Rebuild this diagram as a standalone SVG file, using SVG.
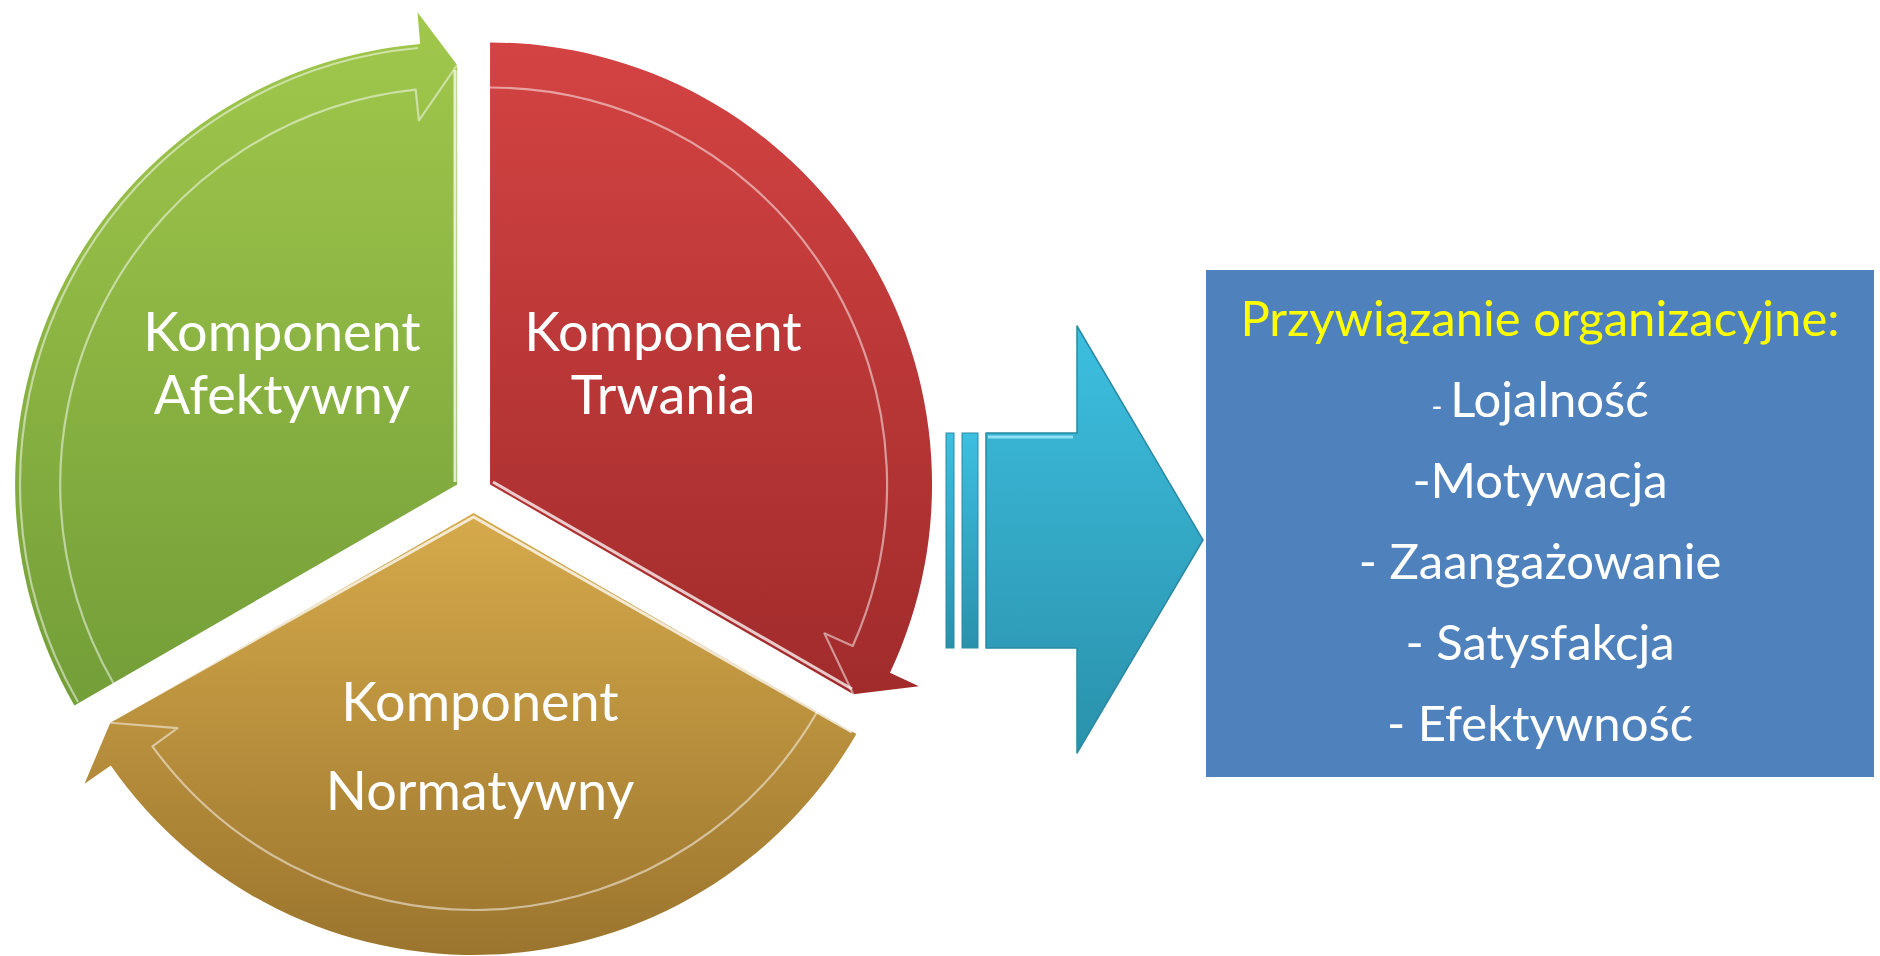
<svg xmlns="http://www.w3.org/2000/svg" width="1880" height="956" viewBox="0 0 1880 956">
  <defs>
    <linearGradient id="gGreen" x1="0" y1="0" x2="0" y2="1">
      <stop offset="0" stop-color="#a1c84c"/>
      <stop offset="1" stop-color="#739e38"/>
    </linearGradient>
    <linearGradient id="gRed" x1="0" y1="0" x2="0" y2="1">
      <stop offset="0" stop-color="#d44343"/>
      <stop offset="1" stop-color="#a12b2b"/>
    </linearGradient>
    <linearGradient id="gGold" x1="0" y1="0" x2="0" y2="1">
      <stop offset="0" stop-color="#d6aa4b"/>
      <stop offset="1" stop-color="#9b752e"/>
    </linearGradient>
    <linearGradient id="gBlue" x1="0" y1="0" x2="0" y2="1">
      <stop offset="0" stop-color="#3dbfe0"/>
      <stop offset="1" stop-color="#2a91ab"/>
    </linearGradient>
    <style>
      .lbl { font-family: Lato, "Open Sans", "Liberation Sans", sans-serif; fill: #ffffff; text-anchor: middle; }
      .seg { font-size: 54px; }
      .box { font-size: 49px; }
      .title { fill: #ffff00; }
      .hl { fill: none; stroke: #ffffff; stroke-opacity: 0.5; stroke-width: 2.2; stroke-linejoin: round; }
      .edge { fill: none; stroke: #ffffff; stroke-opacity: 0.75; stroke-width: 3; }
    </style>
  </defs>

  <g id="node-afektywny">
    <path d="M457.15,484.5 L74.35,705.5 A442 442 0 0 1 420.16,44.05 L417.49,12.16 L457.15,65 Z" fill="url(#gGreen)"/>
    <path class="hl" d="M113.35,683 A397 397 0 0 1 415.65,89.7 L418.89,120.5 L457.15,65"/>
    <path class="hl" stroke-opacity="0.35" d="M78,702 A438 438 0 0 1 418,48"/>
    <path class="edge" stroke="#f0ffd0" d="M455,482 L455,70"/>
    <text class="lbl seg" x="282" y="351">Komponent</text>
    <text class="lbl seg" x="282" y="414">Afektywny</text>
  </g>

  <g id="node-trwania">
    <path d="M490.05,484.5 L490.05,42.5 A442 442 0 0 1 889.98,672.69 L918.94,686.32 L853.34,694.25 Z" fill="url(#gRed)"/>
    <path class="hl" d="M490.05,87.5 A397 397 0 0 1 852.73,645.98 L824.41,633.37 L853.34,694.25"/>
    <path class="edge" d="M493,482 L852,689"/>
    <text class="lbl seg" x="663" y="351">Komponent</text>
    <text class="lbl seg" x="663" y="414">Trwania</text>
  </g>

  <g id="node-normatywny">
    <path d="M473.6,513 L856.37,734 A442 442 0 0 1 110.8,765.47 L84.53,783.74 L110.3,722.75 Z" fill="url(#gGold)"/>
    <path class="hl" d="M817.4,711.5 A397 397 0 0 1 152.42,746.35 L177.5,728.13 L110.3,722.75"/>
    <path class="edge" stroke="#ffe9a8" stroke-opacity="0.6" d="M114,719 L473.6,517 L852,732"/>
    <text class="lbl seg" x="480" y="721">Komponent</text>
    <text class="lbl seg" x="480" y="810">Normatywny</text>
  </g>

  <g id="connectors">
    <g id="connector-arrow">
      <rect x="946" y="433" width="8" height="215" fill="url(#gBlue)" stroke="#2a8aa3" stroke-width="1"/>
      <rect x="962" y="433" width="16" height="215" fill="url(#gBlue)" stroke="#2a8aa3" stroke-width="1"/>
      <path d="M986,433 L1077,433 L1077,326 L1203,540 L1077,753 L1077,648 L986,648 Z" fill="url(#gBlue)" stroke="#2a8aa3" stroke-width="1.5" stroke-linejoin="round"/>
      <path d="M988,437 L1073,437" stroke="#8fe0f4" stroke-width="3" fill="none"/>
    </g>
  </g>

  <g id="node-result">
    <rect x="1206" y="270" width="668" height="507" fill="#4f81bd"/>
    <text class="lbl box title" x="1540" y="336">Przywiązanie organizacyjne:</text>
    <text class="lbl box" x="1540" y="417"><tspan font-size="30">- </tspan>Lojalność</text>
    <text class="lbl box" x="1540" y="498">-Motywacja</text>
    <text class="lbl box" x="1540" y="579">- Zaangażowanie</text>
    <text class="lbl box" x="1540" y="660">- Satysfakcja</text>
    <text class="lbl box" x="1540" y="741">- Efektywność</text>
  </g>
</svg>
